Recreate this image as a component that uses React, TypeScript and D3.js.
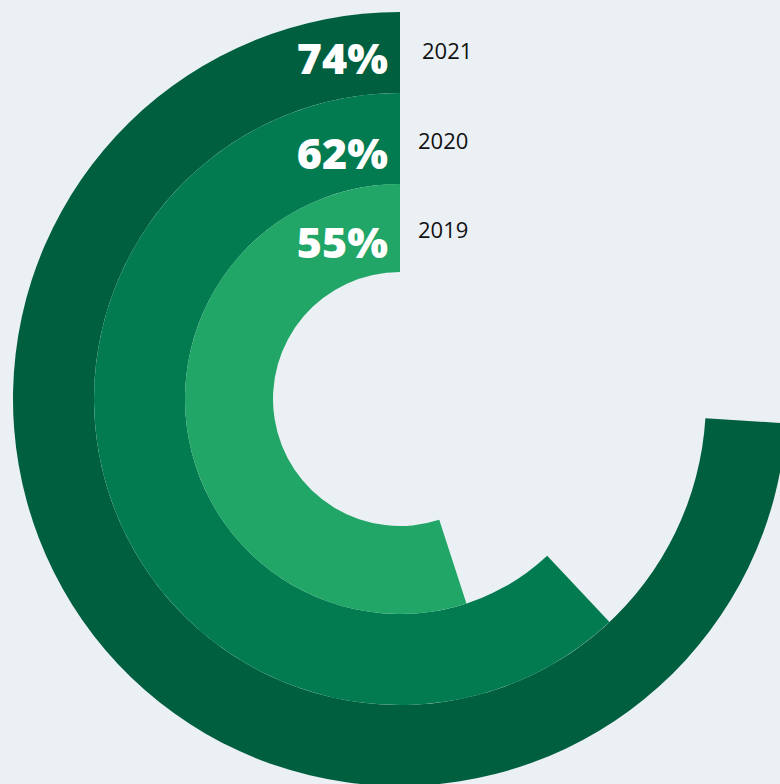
import React from "react";
import * as d3 from "d3";

const years = ["2021", "2020", "2019"];
const values = [74, 62, 55];
const colors = ["#005F3E", "#037B50", "#22A668"];

const W = 780;
const H = 784;
const cx = 400;
const cy = 399;
const radii = [387, 306, 215, 127];

export default function App() {
  const angle = d3.scaleLinear().domain([0, 100]).range([0, -2 * Math.PI]);
  return (
    <svg
      width={W}
      height={H}
      style={{ position: "absolute", left: 0, top: 0, background: "#EAF0F3" }}
    >
      <rect x={0} y={0} width={W} height={H} fill="#EAF0F3" />
      <g transform={`translate(${cx},${cy})`}>
        {values.map((v, i) => {
          const arc = d3
            .arc()
            .innerRadius(radii[i + 1])
            .outerRadius(radii[i])
            .startAngle(0)
            .endAngle(angle(v));
          return <path key={years[i]} d={arc({} as any) || ""} fill={colors[i]} />;
        })}
        {values.map((v, i) => {
          const base = -radii[i + 1] - (i === 0 ? 19 : i === 1 ? 15 : 14);
          return (
            <g key={"l" + i}>
              <text
                x={-12}
                y={base}
                textAnchor="end"
                fill="#fff"
                fontFamily="'Open Sans', sans-serif"
                fontWeight={800}
                fontSize={43}
              >
                {v}%
              </text>
              <text
                x={i === 0 ? 22 : 18}
                y={base - (i === 0 ? 15 : 20)}
                fill="#111"
                fontFamily="'Open Sans', sans-serif"
                fontSize={22}
              >
                {years[i]}
              </text>
            </g>
          );
        })}
      </g>
    </svg>
  );
}
